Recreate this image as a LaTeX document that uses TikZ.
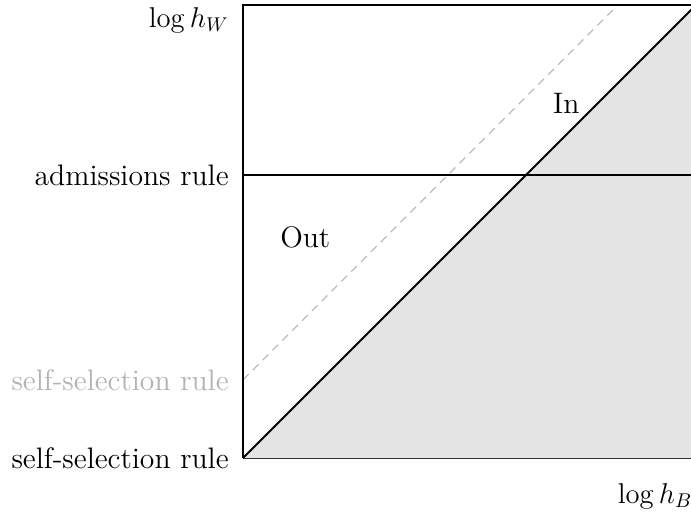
\documentclass[tikz,border=0pt]{standalone}
\usepackage{tikz}
\usetikzlibrary{positioning}

\begin{document}
\begin{tikzpicture}[font=\fontsize{14.9}{18}\selectfont,
  rulelabel/.style={left, inner sep=7pt},
  boxline/.style={line width=1pt}]
  \useasboundingbox (-4.293,-0.989) rectangle (7.915,8.092);
  \clip (-4.293,-0.989) rectangle (7.915,8.092);
  % corners of the region
  \coordinate (O) at (0,0);
  \coordinate (BR) at (8,0);
  \coordinate (TR) at (8,8);
  \coordinate (TL) at (0,8);
  % admissions and self-selection rules
  \coordinate (adm) at (0,5);
  \coordinate (admR) at (8,5);
  \coordinate (self) at (0,1.38);
  \coordinate (selfT) at (6.62,8);
  % shaded part below the diagonal
  \fill[black!10] (O) -- (TR) -- (BR) -- cycle;
  \draw[black!80] (O) -- (BR);
  \draw[dash pattern=on 4pt off 3pt, black!30, semithick] (self) -- (selfT);
  \draw[boxline] (O) -- (TL) -- (TR) -- (BR);
  \draw[boxline] (adm) -- (admR);
  \draw[boxline] (O) -- (TR);
  % labels
  \node[rulelabel] (hw) at (0,7.74) {$\log h_W$};
  \node[rulelabel] (admlab) at (adm) {admissions rule};
  \node[rulelabel, black!30] (selflab) at (self) {self-selection rule};
  \node[rulelabel] (selflab0) at (O) {self-selection rule};
  \node (hb) at (7.28,-0.67) {$\log h_B$};
  \node (out) at (1.1,3.9) {Out};
  \node (in) at (5.71,6.27) {In};
\end{tikzpicture}
\end{document}
